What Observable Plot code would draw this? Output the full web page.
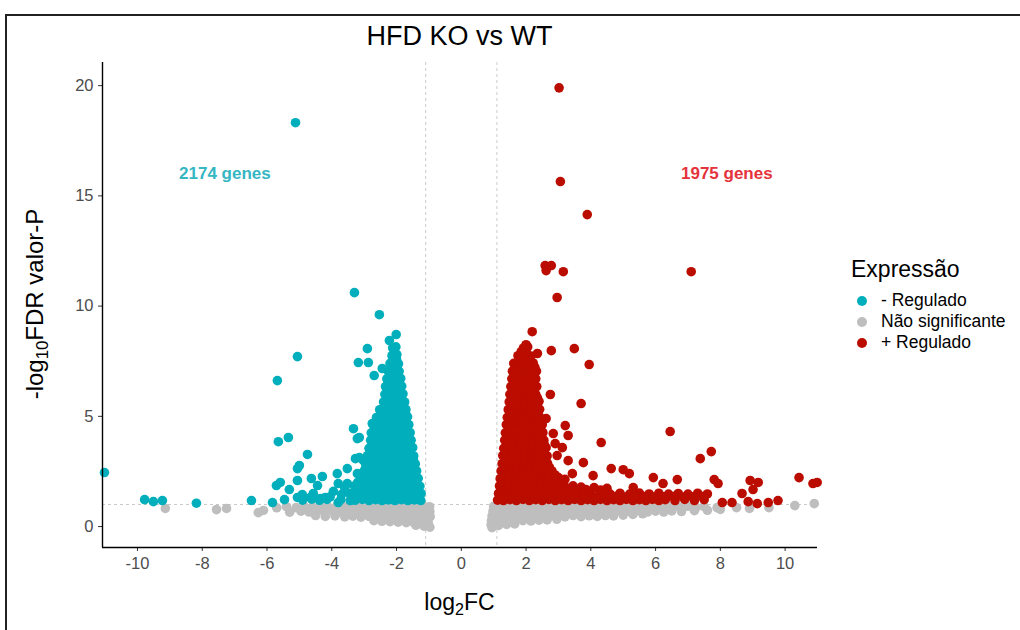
<!DOCTYPE html>
<html>
<head>
<meta charset="utf-8">
<script src="https://cdn.jsdelivr.net/npm/d3@7"></script>
<script src="https://cdn.jsdelivr.net/npm/@observablehq/plot@0.6"></script>
<style>
  body { margin: 0; background: #fff; }
  #wrap { position: relative; width: 1020px; height: 630px; overflow: hidden; background: #fff; font-family: "Liberation Sans", Arial, sans-serif; }
  #frame { position: absolute; left: 5px; top: 14px; width: 1100px; height: 700px; border-top: 2px solid #222; border-left: 2px solid #222; }
  #chart { position: absolute; left: 0; top: 0; }
  .lbl { position: absolute; color: #000; white-space: nowrap; }
  #title { left: 0; width: 919px; text-align: center; top: 21px; font-size: 27px; }
  #xlab { left: 0; width: 919px; text-align: center; top: 589px; font-size: 23px; }
  #ylab { left: 35px; top: 304px; font-size: 24px; transform: translate(-50%, -50%) rotate(-90deg); }
  sub { font-size: 70%; vertical-align: -0.3em; line-height: 0; }
  #legend { position: absolute; left: 851px; top: 256px; }
  #legend .lt { font-size: 23px; margin-bottom: 7px; }
  #legend .it { display: flex; align-items: center; height: 21px; font-size: 17.5px; }
  #legend .sw { width: 10px; height: 10px; border-radius: 50%; margin: 0 14px 0 6px; }
</style>
</head>
<body>
<div id="wrap">
  <div id="frame"></div>
  <div id="chart"></div>
  <div class="lbl" id="title">HFD KO vs WT</div>
  <div class="lbl" id="xlab">log<sub>2</sub>FC</div>
  <div class="lbl" id="ylab">-log<sub>10</sub>FDR valor-P</div>
  <div id="legend"></div>
</div>
<script>
// ---------- data ----------
const categories = ["- Regulado", "Não significante", "+ Regulado"];
const colors = ["#00AFBB", "#bebebe", "#BB0C00"];

const xTicks = [-10, -8, -6, -4, -2, 0, 2, 4, 6, 8, 10];
const yTicks = [0, 5, 10, 15, 20];
const thresholdFC = [-1.1, 1.1];
const thresholdP = [1];

const annotX = [-7.3, 8.2];
const annotY = [16.0, 16.0];
const annotText = ["2174 genes", "1975 genes"];
const annotColor = ["#35b6c3", "#e5333b"];

// down-regulated (teal), outlying points
const downOutliers = [
  [-5.12,18.32],[-3.30,10.61],[-2.53,9.61],[-2.22,8.44],[-2.01,8.71],[-5.06,7.71],[-2.9,8.07],
  [-3.18,7.44],[-2.87,7.44],[-2.69,6.85],[-2.44,7.17],[-5.68,6.62],[-5.65,3.85],[-5.34,4.04],
  [-4.75,3.27],[-5.0,2.77],[-5.06,2.63],[-5.71,1.86],[-5.59,2.0],[-5.31,1.68],[-5.06,2.09],
  [-5.46,1.22],[-5.06,1.32],[-4.91,1.45],[-4.66,1.32],[-4.57,1.5],[-4.35,1.27],[-4.2,1.32],
  [-4.63,2.18],[-4.44,1.86],[-4.29,2.27],[-3.83,2.4],[-3.8,1.95],[-3.52,1.95],[-3.21,2.4],
  [-3.52,2.63],[-3.27,3.08],[-3.15,3.13],[-3.02,2.99],[-3.33,4.44],[-3.21,3.99],[-3.15,4.04],
  [-2.75,4.67],[-2.72,4.22],[-3.8,1.09],[-3.43,1.18],[-11.02,2.45],[-9.78,1.22],[-9.51,1.13],
  [-9.23,1.18],[-8.18,1.06],[-6.48,1.18],[-5.83,1.09],
  [-3.7,1.45],[-3.95,1.6],[-3.6,1.75],[-4.05,1.35]
];
// down-regulated (teal), dense core
const downCore = [
  [-4.9,1.2],[-4.62,1.24],[-4.38,1.19],[-4.15,1.23],[-3.72,1.22],[-3.28,1.19],[-3.05,1.23],[-2.85,1.18],
  [-2.65,1.22],[-2.45,1.18],[-2.25,1.21],[-2.05,1.18],[-1.85,1.22],[-1.65,1.18],[-1.45,1.21],[-1.25,1.18],
  [-3.45,1.5],[-3.22,1.55],[-3.0,1.47],[-2.8,1.52],[-2.6,1.48],[-2.4,1.54],[-2.2,1.47],[-2.0,1.52],
  [-1.8,1.48],[-1.6,1.54],[-1.42,1.47],[-1.24,1.5],
  [-3.3,1.84],[-3.05,1.88],[-2.85,1.81],[-2.65,1.87],[-2.45,1.83],[-2.25,1.89],[-2.05,1.82],[-1.85,1.87],
  [-1.65,1.83],[-1.45,1.88],[-1.28,1.83],
  [-3.1,2.17],[-2.9,2.22],[-2.7,2.15],[-2.5,2.2],[-2.3,2.16],[-2.1,2.22],[-1.9,2.17],[-1.7,2.21],
  [-1.5,2.15],[-1.33,2.19],
  [-3.0,2.52],[-2.8,2.48],[-2.6,2.54],[-2.4,2.5],[-2.2,2.55],[-2.0,2.48],[-1.8,2.53],[-1.6,2.49],[-1.38,2.52],
  [-2.95,2.85],[-2.75,2.9],[-2.55,2.83],[-2.35,2.88],[-2.15,2.84],[-1.95,2.9],[-1.75,2.85],[-1.57,2.88],[-1.42,2.84],
  [-2.9,3.22],[-2.7,3.18],[-2.5,3.24],[-2.3,3.2],[-2.1,3.25],[-1.9,3.18],[-1.7,3.23],[-1.47,3.2],
  [-2.85,3.55],[-2.65,3.6],[-2.45,3.53],[-2.25,3.58],[-2.05,3.54],[-1.85,3.6],[-1.66,3.55],[-1.5,3.58],
  [-2.8,3.92],[-2.6,3.88],[-2.4,3.94],[-2.2,3.9],[-2.0,3.95],[-1.8,3.88],[-1.55,3.92],
  [-2.78,4.25],[-2.58,4.3],[-2.38,4.23],[-2.18,4.28],[-1.98,4.24],[-1.78,4.3],[-1.58,4.26],
  [-2.72,4.62],[-2.52,4.58],[-2.32,4.64],[-2.12,4.6],[-1.92,4.65],[-1.75,4.58],[-1.62,4.62],
  [-2.62,4.95],[-2.42,5.0],[-2.22,4.93],[-2.02,4.98],[-1.84,4.94],[-1.66,4.98],
  [-2.52,5.3],[-2.32,5.35],[-2.12,5.28],[-1.92,5.33],[-1.71,5.3],
  [-2.4,5.65],[-2.2,5.7],[-2.0,5.63],[-1.85,5.68],[-1.75,5.65],
  [-2.36,6.0],[-2.16,6.05],[-1.97,5.98],[-1.8,6.02],
  [-2.34,6.35],[-2.15,6.4],[-1.98,6.33],[-1.84,6.37],
  [-2.3,6.7],[-2.12,6.75],[-1.96,6.68],[-1.87,6.72],
  [-2.26,7.05],[-2.09,7.1],[-1.92,7.04],
  [-2.2,7.4],[-2.05,7.45],[-1.94,7.38],
  [-2.14,7.75],[-1.99,7.8],
  [-2.12,8.1],[-2.02,8.15]
];
// down-regulated (teal), points between the core rows
const downFill = [
  [-3.35,1.35],[-3.1,1.36],[-2.9,1.34],[-2.7,1.36],[-2.5,1.35],[-2.3,1.34],[-2.1,1.36],[-1.9,1.35],[-1.7,1.34],[-1.5,1.36],[-1.32,1.35],
  [-3.2,1.68],[-2.95,1.69],[-2.75,1.67],[-2.55,1.68],[-2.35,1.69],[-2.15,1.67],[-1.95,1.68],[-1.75,1.69],[-1.55,1.67],[-1.36,1.68],
  [-3.2,2.0],[-3.0,2.01],[-2.8,1.99],[-2.6,2.0],[-2.4,2.02],[-2.2,1.99],[-2.0,2.0],[-1.8,2.01],[-1.6,1.99],[-1.4,2.0],
  [-3.05,2.35],[-2.85,2.36],[-2.65,2.34],[-2.45,2.35],[-2.25,2.36],[-2.05,2.34],[-1.85,2.35],[-1.65,2.36],[-1.45,2.35],
  [-2.95,2.68],[-2.7,2.69],[-2.5,2.67],[-2.3,2.68],[-2.1,2.69],[-1.9,2.67],[-1.7,2.68],[-1.5,2.69],
  [-2.85,3.03],[-2.65,3.04],[-2.45,3.02],[-2.25,3.03],[-2.05,3.04],[-1.85,3.02],[-1.65,3.03],[-1.48,3.04],
  [-2.8,3.38],[-2.6,3.39],[-2.4,3.37],[-2.2,3.38],[-2.0,3.39],[-1.8,3.37],[-1.58,3.38],
  [-2.75,3.73],[-2.55,3.74],[-2.35,3.72],[-2.15,3.73],[-1.95,3.74],[-1.75,3.72],[-1.58,3.73],
  [-2.7,4.08],[-2.5,4.09],[-2.3,4.07],[-2.1,4.08],[-1.9,4.09],[-1.68,4.08],
  [-2.68,4.43],[-2.48,4.44],[-2.28,4.42],[-2.08,4.43],[-1.88,4.44],[-1.7,4.43],
  [-2.55,4.78],[-2.35,4.79],[-2.15,4.77],[-1.95,4.78],[-1.75,4.79],
  [-2.45,5.12],[-2.25,5.13],[-2.05,5.11],[-1.85,5.12],[-1.72,5.13],
  [-2.3,5.48],[-2.1,5.49],[-1.92,5.47],[-1.78,5.48],
  [-2.28,5.83],[-2.08,5.84],[-1.9,5.82],
  [-2.25,6.18],[-2.06,6.19],[-1.9,6.17],
  [-2.22,6.53],[-2.05,6.54],[-1.92,6.52],
  [-2.18,6.88],[-2.0,6.89],
  [-2.14,7.23],[-1.98,7.24],
  [-2.1,7.58],[-2.0,7.59],
  [-2.06,7.93]
];
// not significant (grey), left wedge
const nsLeft = [
  [-9.14,0.82],[-7.56,0.77],[-7.25,0.82],[-6.27,0.63],[-6.11,0.73],
  [-5.7,0.85],[-5.4,0.9],[-5.1,0.86],[-4.85,0.92],[-4.6,0.88],[-4.35,0.93],[-4.1,0.87],[-3.85,0.92],
  [-3.6,0.88],[-3.35,0.93],[-3.1,0.87],[-2.85,0.92],[-2.6,0.88],[-2.35,0.93],[-2.1,0.87],[-1.85,0.92],
  [-1.6,0.88],[-1.35,0.93],[-1.12,0.88],[-0.98,0.9],
  [-5.3,0.65],[-4.95,0.7],[-4.7,0.66],[-4.45,0.7],[-4.2,0.65],[-3.95,0.7],[-3.7,0.66],[-3.45,0.71],
  [-3.2,0.66],[-2.95,0.7],[-2.7,0.65],[-2.45,0.7],[-2.2,0.66],[-1.95,0.71],[-1.7,0.66],[-1.45,0.7],
  [-1.2,0.66],[-0.97,0.68],
  [-4.5,0.5],[-4.2,0.46],[-3.9,0.48],[-3.6,0.44],[-3.35,0.47],[-3.1,0.43],[-2.85,0.46],[-2.6,0.42],
  [-2.35,0.45],[-2.1,0.42],[-1.85,0.45],[-1.6,0.42],[-1.35,0.45],[-1.12,0.42],[-0.96,0.45],
  [-2.7,0.27],[-2.45,0.24],[-2.2,0.22],[-1.95,0.2],[-1.7,0.18],[-1.45,0.16],[-1.22,0.14],[-1.02,0.18],
  [-1.4,0.06],[-1.15,0.02],[-0.97,-0.03]
];
// not significant (grey), right wedge
const nsRight = [
  [1.0,0.92],[1.25,0.88],[1.5,0.93],[1.75,0.88],[2.0,0.92],[2.25,0.87],[2.5,0.93],[2.75,0.88],[3.0,0.92],
  [3.25,0.87],[3.5,0.93],[3.75,0.88],[4.0,0.92],[4.25,0.87],[4.5,0.93],[4.75,0.88],[5.0,0.92],[5.25,0.87],
  [5.5,0.93],[5.75,0.88],[6.0,0.92],[6.25,0.87],[6.5,0.93],[6.75,0.88],[7.0,0.92],[7.25,0.87],[7.5,0.9],
  [7.9,0.86],[8.5,0.86],[8.9,0.82],[9.5,0.86],[10.3,0.95],[10.9,1.04],
  [0.98,0.7],[1.25,0.66],[1.5,0.71],[1.75,0.66],[2.0,0.7],[2.25,0.65],[2.5,0.71],[2.75,0.66],[3.0,0.7],
  [3.25,0.65],[3.5,0.71],[3.75,0.66],[4.0,0.7],[4.25,0.65],[4.5,0.71],[4.75,0.66],[5.0,0.7],[5.25,0.65],
  [5.5,0.71],[5.75,0.66],[6.0,0.7],[6.25,0.66],[6.5,0.71],[6.8,0.68],[7.2,0.72],[7.6,0.74],[8.0,0.78],
  [0.95,0.48],[1.2,0.45],[1.45,0.5],[1.7,0.45],[1.95,0.49],[2.2,0.44],[2.45,0.5],[2.7,0.45],[2.95,0.49],
  [3.2,0.44],[3.45,0.5],[3.7,0.45],[3.95,0.49],[4.2,0.46],[4.45,0.5],[4.7,0.48],[5.0,0.52],[5.3,0.55],[5.6,0.58],
  [0.93,0.27],[1.15,0.24],[1.4,0.28],[1.65,0.23],[1.9,0.27],[2.15,0.25],[2.4,0.29],[2.65,0.3],[2.95,0.33],
  [0.92,0.08],[1.15,0.05],[1.4,0.1],[1.65,0.12],
  [0.95,-0.05]
];
// up-regulated (red), dense core
const upCore = [
  [1.12,1.2],[1.3,1.18],[1.5,1.22],[1.7,1.18],[1.9,1.23],[2.1,1.18],[2.3,1.22],[2.5,1.18],[2.7,1.23],[2.9,1.18],
  [3.1,1.22],[3.3,1.18],[3.5,1.23],[3.7,1.18],[3.9,1.22],[4.1,1.18],[4.3,1.23],[4.5,1.18],[4.7,1.22],[4.9,1.18],
  [5.1,1.23],[5.3,1.18],[5.5,1.22],[5.7,1.18],[5.9,1.23],[6.1,1.18],[6.3,1.22],[6.6,1.18],[6.9,1.23],[7.2,1.18],[7.5,1.22],
  [1.15,1.5],[1.35,1.55],[1.55,1.48],[1.75,1.53],[1.95,1.49],[2.15,1.55],[2.35,1.48],[2.55,1.53],[2.75,1.49],
  [2.95,1.55],[3.15,1.48],[3.35,1.53],[3.55,1.49],[3.75,1.55],[4.0,1.48],[4.3,1.52],[4.6,1.47],[4.9,1.51],
  [5.2,1.47],[5.5,1.52],[5.8,1.48],[6.1,1.51],[6.4,1.47],[6.7,1.5],[7.0,1.47],[7.3,1.51],[7.6,1.48],
  [1.18,1.84],[1.38,1.88],[1.58,1.81],[1.78,1.87],[1.98,1.83],[2.18,1.89],[2.38,1.82],[2.58,1.87],[2.78,1.83],
  [2.98,1.88],[3.2,1.81],[3.45,1.85],[3.7,1.79],[4.1,1.77],[4.5,1.73],
  [1.2,2.17],[1.4,2.22],[1.6,2.15],[1.8,2.2],[2.0,2.16],[2.2,2.22],[2.4,2.15],[2.6,2.2],[2.8,2.16],[3.0,2.22],[3.2,2.14],
  [1.23,2.52],[1.43,2.48],[1.63,2.54],[1.83,2.5],[2.03,2.55],[2.23,2.48],[2.43,2.53],[2.63,2.49],[2.8,2.52],
  [1.26,2.85],[1.46,2.9],[1.66,2.83],[1.86,2.88],[2.06,2.84],[2.26,2.9],[2.46,2.85],[2.66,2.88],
  [1.28,3.22],[1.48,3.18],[1.68,3.24],[1.88,3.2],[2.08,3.25],[2.28,3.18],[2.48,3.23],[2.65,3.2],
  [1.31,3.55],[1.5,3.6],[1.7,3.53],[1.9,3.58],[2.1,3.54],[2.3,3.6],[2.5,3.55],[2.62,3.58],
  [1.34,3.92],[1.54,3.88],[1.74,3.94],[1.94,3.9],[2.14,3.95],[2.34,3.88],[2.55,3.92],
  [1.36,4.25],[1.56,4.3],[1.76,4.23],[1.96,4.28],[2.16,4.24],[2.36,4.3],[2.52,4.26],
  [1.39,4.62],[1.59,4.58],[1.79,4.64],[1.99,4.6],[2.19,4.65],[2.39,4.58],[2.5,4.62],
  [1.42,4.95],[1.62,5.0],[1.82,4.93],[2.02,4.98],[2.22,4.94],[2.42,4.98],
  [1.45,5.3],[1.65,5.35],[1.85,5.28],[2.05,5.33],[2.25,5.3],[2.42,5.32],
  [1.48,5.65],[1.68,5.7],[1.88,5.63],[2.08,5.68],[2.28,5.65],[2.4,5.68],
  [1.5,6.0],[1.7,6.05],[1.9,5.98],[2.1,6.02],[2.3,6.0],
  [1.53,6.35],[1.73,6.4],[1.93,6.33],[2.13,6.37],[2.33,6.35],
  [1.56,6.7],[1.76,6.75],[1.96,6.68],[2.16,6.72],[2.3,6.7],
  [1.58,7.05],[1.78,7.1],[1.98,7.04],[2.18,7.08],[2.32,7.05],
  [1.62,7.4],[1.82,7.45],[2.02,7.38],[2.22,7.42],
  [1.75,7.75],[1.95,7.8],[2.15,7.74],
  [1.92,8.1],[2.05,8.15]
];
// up-regulated (red), points between the core rows
const upFill = [
  [1.2,1.35],[1.4,1.36],[1.6,1.34],[1.8,1.35],[2.0,1.36],[2.2,1.34],[2.4,1.35],[2.6,1.36],[2.8,1.34],[3.0,1.35],
  [3.2,1.36],[3.4,1.34],[3.6,1.35],[3.85,1.36],[4.15,1.34],[4.45,1.35],[4.75,1.36],[5.05,1.34],[5.35,1.35],
  [5.65,1.36],[5.95,1.34],[6.25,1.35],[6.55,1.36],[6.85,1.34],[7.15,1.35],[7.45,1.36],
  [1.25,1.68],[1.45,1.69],[1.65,1.67],[1.85,1.68],[2.05,1.69],[2.25,1.67],[2.45,1.68],[2.65,1.69],[2.85,1.67],
  [3.05,1.68],[3.3,1.69],[3.55,1.67],[3.85,1.68],[4.3,1.66],
  [1.28,2.0],[1.48,2.01],[1.68,1.99],[1.88,2.0],[2.08,2.01],[2.28,1.99],[2.48,2.0],[2.68,2.01],[2.88,1.99],[3.1,2.0],
  [1.3,2.35],[1.5,2.36],[1.7,2.34],[1.9,2.35],[2.1,2.36],[2.3,2.34],[2.5,2.35],[2.7,2.36],[2.9,2.34],
  [1.33,2.68],[1.53,2.69],[1.73,2.67],[1.93,2.68],[2.13,2.69],[2.33,2.67],[2.53,2.68],[2.72,2.69],
  [1.36,3.03],[1.56,3.04],[1.76,3.02],[1.96,3.03],[2.16,3.04],[2.36,3.02],[2.56,3.03],
  [1.38,3.38],[1.58,3.39],[1.78,3.37],[1.98,3.38],[2.18,3.39],[2.38,3.37],[2.56,3.38],
  [1.42,3.73],[1.62,3.74],[1.82,3.72],[2.02,3.73],[2.22,3.74],[2.42,3.72],[2.56,3.73],
  [1.44,4.08],[1.64,4.09],[1.84,4.07],[2.04,4.08],[2.24,4.09],[2.44,4.08],
  [1.47,4.43],[1.67,4.44],[1.87,4.42],[2.07,4.43],[2.27,4.44],[2.45,4.43],
  [1.5,4.78],[1.7,4.79],[1.9,4.77],[2.1,4.78],[2.3,4.79],[2.45,4.78],
  [1.53,5.12],[1.73,5.13],[1.93,5.11],[2.13,5.12],[2.33,5.13],
  [1.56,5.48],[1.76,5.49],[1.96,5.47],[2.16,5.48],[2.34,5.49],
  [1.58,5.83],[1.78,5.84],[1.98,5.82],[2.18,5.83],[2.35,5.84],
  [1.6,6.18],[1.8,6.19],[2.0,6.17],[2.2,6.18],
  [1.64,6.53],[1.84,6.54],[2.04,6.52],[2.24,6.53],
  [1.67,6.88],[1.87,6.89],[2.07,6.87],[2.25,6.88],
  [1.7,7.23],[1.9,7.24],[2.1,7.22],[2.27,7.23],
  [1.85,7.58],[2.05,7.59],
  [1.85,7.93],[2.0,7.94]
];
// up-regulated (red), outlying points
const upOutliers = [
  [3.02,19.9],[3.06,15.65],[3.89,14.15],[2.59,11.84],[2.78,11.84],[2.62,11.61],[3.15,11.56],[7.1,11.56],
  [2.96,10.39],[2.19,8.84],[2.0,8.25],[2.35,7.85],[2.78,7.98],[3.49,8.07],[3.95,7.35],[2.75,5.99],
  [3.7,5.58],[2.62,4.9],[3.21,4.58],[3.3,4.13],[4.32,3.81],[6.45,4.31],[2.84,4.22],[2.9,3.76],[3.12,3.58],
  [2.96,3.22],[3.3,2.99],[3.77,2.9],[4.07,2.31],[4.63,2.63],[5.0,2.58],[5.19,2.4],[5.93,2.22],[3.43,2.4],
  [4.38,1.63],[5.31,1.77],[7.38,3.08],[7.72,3.4],[6.23,1.95],[6.67,2.13],[7.81,2.13],[7.93,1.95],
  [8.92,2.09],[9.17,2.0],[9.01,1.68],[8.67,1.5],[10.43,2.22],[10.86,1.95],[10.99,2.0],[8.86,1.13],
  [9.14,1.04],[9.48,1.09],[9.78,1.18],[8.36,1.09],[8.06,1.09]
];

// ---------- build tables ----------
const toRows = (pts, cat) => pts.map(([x, y]) => ({x, y, cat}));
const nsRows = [...toRows(nsLeft, categories[1]), ...toRows(nsRight, categories[1])];
const downRows = [...toRows(downCore, categories[0]), ...toRows(downFill, categories[0]), ...toRows(downOutliers, categories[0])];
const upRows = [...toRows(upCore, categories[2]), ...toRows(upFill, categories[2]), ...toRows(upOutliers, categories[2])];
const annots = annotText.map((t, i) => ({x: annotX[i], y: annotY[i], t, c: annotColor[i]}));

const xDomain = [-11.08, 11.0];
const yDomain = [-0.95, 21.05];

const chart = Plot.plot({
  width: 1020,
  height: 630,
  marginLeft: 102,
  marginRight: 203,
  marginTop: 62,
  marginBottom: 83,
  style: {background: "transparent", fontFamily: "'Liberation Sans', Arial, sans-serif"},
  x: {domain: xDomain},
  y: {domain: yDomain},
  color: {domain: categories, range: colors},
  marks: [
    Plot.ruleX(thresholdFC, {stroke: "#c4c4c4", strokeWidth: 0.9, strokeDasharray: "3,3"}),
    Plot.ruleY(thresholdP, {stroke: "#c4c4c4", strokeWidth: 0.9, strokeDasharray: "3,3"}),
    Plot.dot(nsRows, {x: "x", y: "y", r: 4.8, fill: "cat"}),
    Plot.dot(downRows, {x: "x", y: "y", r: 4.8, fill: "cat"}),
    Plot.dot(upRows, {x: "x", y: "y", r: 4.8, fill: "cat"}),
    Plot.text(annots, {x: "x", y: "y", text: "t", fill: "c", fontSize: 17, fontWeight: "bold"}),
    Plot.axisX({ticks: xTicks, tickSize: 4, tickPadding: 6, tickFormat: d => String(d), label: null, fontSize: 16.5, color: "#4d4d4d", stroke: "#333"}),
    Plot.axisY({ticks: yTicks, tickSize: 4, tickPadding: 5, tickFormat: d => String(d), label: null, fontSize: 16.5, color: "#4d4d4d", stroke: "#333"}),
    Plot.ruleY([yDomain[0]], {stroke: "#000", strokeWidth: 1.4}),
    Plot.ruleX([xDomain[0]], {stroke: "#000", strokeWidth: 1.4})
  ]
});
document.getElementById("chart").appendChild(chart);

// legend
const lg = document.getElementById("legend");
const t = document.createElement("div"); t.className = "lt"; t.textContent = "Expressão"; lg.appendChild(t);
categories.forEach((c, i) => {
  const it = document.createElement("div"); it.className = "it";
  const sw = document.createElement("span"); sw.className = "sw"; sw.style.background = colors[i];
  const tx = document.createElement("span"); tx.textContent = c;
  it.appendChild(sw); it.appendChild(tx); lg.appendChild(it);
});
</script>
</body>
</html>
